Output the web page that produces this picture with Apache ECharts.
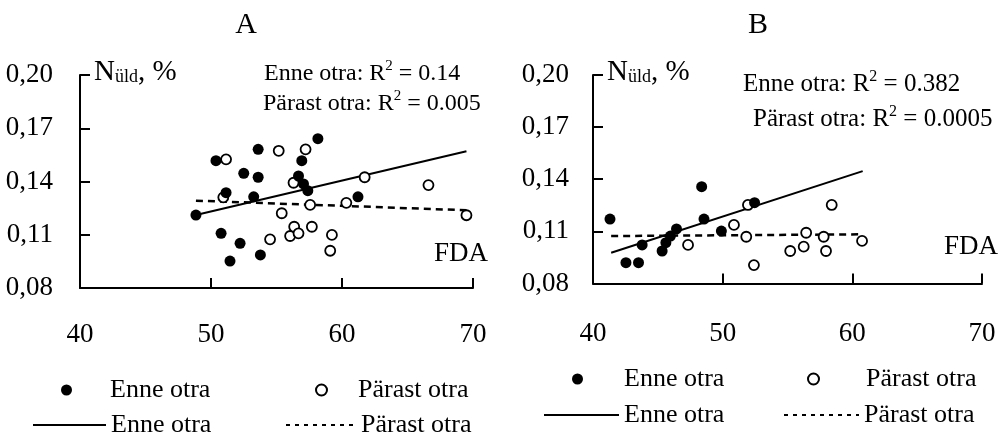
<!DOCTYPE html>
<html>
<head>
<meta charset="utf-8">
<script src="https://cdn.jsdelivr.net/npm/echarts@6/dist/echarts.min.js"></script>
<style>
html,body{margin:0;padding:0;background:#fff;}
#chart{width:1003px;height:436px;}
</style>
</head>
<body>
<div id="chart"></div>
<script>
// ---- data ----
const panelTitles = ['A', 'B'];
const xRange = [40, 70, 10];          // min, max, interval (FDA)
const yRange = [0.08, 0.20, 0.03];    // min, max, interval (N üld, %)
const xName = 'FDA';

const enneA = [[48.85,0.1211],[50.38,0.1517],[51.15,0.1337],[50.77,0.1108],[51.45,0.0952],[52.22,0.1052],[52.5,0.1446],[53.6,0.1581],[53.6,0.1424],[53.26,0.1314],[53.77,0.0986],[58.16,0.1641],[56.93,0.1517],[56.68,0.1431],[57.06,0.1386],[57.39,0.1348],[61.22,0.1314]];
const parastA = [[51.15,0.1525],[50.94,0.1311],[55.17,0.1573],[57.22,0.1581],[56.3,0.1393],[55.4,0.1221],[57.57,0.1268],[54.51,0.1074],[56.04,0.1093],[56.35,0.1145],[56.68,0.1108],[57.7,0.1145],[59.23,0.1099],[59.1,0.101],[60.33,0.128],[61.73,0.1424],[66.6,0.138],[69.5,0.121]];
const trendEnneA = [[48.85,0.1211],[69.5,0.157]];
const trendParastA = [[48.85,0.1292],[69.5,0.1238]];

const enneB = [[41.31,0.1171],[42.54,0.092],[43.51,0.092],[43.79,0.1022],[45.33,0.0987],[45.62,0.1035],[45.97,0.1073],[46.44,0.1114],[48.38,0.1357],[48.56,0.1171],[49.9,0.1102],[52.46,0.1265]];
const parastB = [[47.33,0.1022],[50.87,0.1137],[51.95,0.1252],[51.82,0.1069],[52.41,0.0906],[55.21,0.0987],[56.25,0.1012],[56.44,0.1092],[57.79,0.1069],[57.97,0.0987],[58.41,0.1252],[60.75,0.1045]];
const trendEnneB = [[41.4,0.0977],[60.8,0.1447]];
const trendParastB = [[41.4,0.1073],[60.8,0.1083]];

const r2A = ['0.14', '0.005'];
const r2B = ['0.382', '0.0005'];
const seriesNames = ['Enne otra', 'Pärast otra'];
// ---------------------------------------

const FONT = 'Liberation Serif';
const ZW = '\u200b';
const black = '#000';
const lineNames = seriesNames.map(n => n + ZW);

const chart = echarts.init(document.getElementById('chart'), null, {renderer: 'canvas'});

function xAxisCfg(gridIndex, margin) {
  return {
    gridIndex, type: 'value', min: xRange[0], max: xRange[1], interval: xRange[2],
    axisLine: {show: true, onZero: false, lineStyle: {color: black, width: 2}},
    axisTick: {show: true, inside: true, length: 10, interval: 0, lineStyle: {color: black, width: 2}},
    axisLabel: {fontFamily: FONT, fontSize: 27, color: black, margin: margin},
    splitLine: {show: false}
  };
}
function yAxisCfg(gridIndex, margin) {
  return {
    gridIndex, type: 'value', min: yRange[0], max: yRange[1], interval: yRange[2],
    name: '{n|N}{s|üld}{n|, %}', nameLocation: 'end', nameGap: 3,
    nameTextStyle: {align: 'left', verticalAlign: 'middle', padding: [0, 0, 0, 14],
      rich: {n: {fontFamily: FONT, fontSize: 29, color: black, verticalAlign: 'bottom'},
             s: {fontFamily: FONT, fontSize: 18, color: black, verticalAlign: 'bottom'}}},
    axisLine: {show: true, onZero: false, lineStyle: {color: black, width: 2}},
    axisTick: {show: true, inside: true, length: 10, interval: 0, lineStyle: {color: black, width: 2}},
    axisLabel: {fontFamily: FONT, fontSize: 27, color: black, margin: margin,
      formatter: v => v.toFixed(2).replace('.', ',')},
    splitLine: {show: false}
  };
}
function scatterFilled(name, data, idx) {
  return {name, type: 'scatter', xAxisIndex: idx, yAxisIndex: idx, data, symbol: 'circle', symbolSize: 11,
    itemStyle: {color: black, opacity: 1}, z: 5, emphasis: {disabled: true}};
}
function scatterOpen(name, data, idx) {
  return {name, type: 'scatter', xAxisIndex: idx, yAxisIndex: idx, data, symbol: 'circle', symbolSize: 10,
    itemStyle: {color: '#fff', borderColor: black, borderWidth: 1.8, opacity: 1}, z: 4, emphasis: {disabled: true}};
}
function trend(name, data, idx, dashed) {
  return {name, type: 'line', xAxisIndex: idx, yAxisIndex: idx, data, symbol: 'none', showSymbol: false,
    lineStyle: {color: black, width: dashed ? 2.5 : 2, type: dashed ? [7, 5] : 'solid'},
    itemStyle: {color: black}, z: 3, silent: true};
}
// one legend component per entry so each icon/text sits where the reference has it
function legendDot(name, left, top, textPad) {
  return {data: [name], left, top, itemWidth: 11, itemHeight: 11, padding: 0, selectedMode: false,
    formatter: n => n.replace(/\u200b/g, ''),
    textStyle: {fontFamily: FONT, fontSize: 26, color: black, lineHeight: 26, padding: [0, 0, 0, textPad]}};
}
function legendLine(name, left, top, width, dashed) {
  return {data: [{name, itemStyle: {opacity: 0},
      lineStyle: {color: black, width: 2, type: dashed ? [4, 5] : 'solid', opacity: 1}}],
    left, top, itemWidth: width, itemHeight: 12, padding: 0, selectedMode: false,
    formatter: n => n.replace(/\u200b/g, ''),
    textStyle: {fontFamily: FONT, fontSize: 26, color: black, lineHeight: 26}};
}
function r2Text(x, y, label, val, fs) {
  return {type: 'text', x, y, z: 10,
    style: {text: '{a|' + label + ': R}{s|2}{a| = ' + val + '}', verticalAlign: 'middle', align: 'left',
      rich: {a: {fontFamily: FONT, fontSize: fs, color: black, lineHeight: 30},
             s: {fontFamily: FONT, fontSize: Math.round(fs * 0.62), color: black, verticalAlign: 'top', lineHeight: 16}}}};
}
function nameText(x, y) {
  return {type: 'text', x, y, z: 10,
    style: {text: xName, align: 'right', verticalAlign: 'middle', fontFamily: FONT, fontSize: 27, fill: black}};
}

const option = {
  backgroundColor: '#fff',
  animation: false,
  title: [
    {text: panelTitles[0], left: 241, top: 20, textAlign: 'center', textVerticalAlign: 'middle',
      textStyle: {fontFamily: FONT, fontSize: 30, fontWeight: 'normal', color: black}},
    {text: panelTitles[1], left: 753, top: 20, textAlign: 'center', textVerticalAlign: 'middle',
      textStyle: {fontFamily: FONT, fontSize: 30, fontWeight: 'normal', color: black}}
  ],
  grid: [
    {left: 80, top: 75, width: 393, height: 213, containLabel: false},
    {left: 593, top: 75, width: 389, height: 208.5, containLabel: false}
  ],
  xAxis: [xAxisCfg(0, 33), xAxisCfg(1, 37)],
  yAxis: [yAxisCfg(0, 27), yAxisCfg(1, 24)],
  legend: [
    legendDot(seriesNames[0], 61, 377, 33),
    legendDot(seriesNames[1], 315, 377, 26),
    legendLine(lineNames[0], 32, 412, 73, false),
    legendLine(lineNames[1], 285, 412, 70, true),
    legendDot(seriesNames[0], 572, 366, 36),
    legendDot(seriesNames[1], 807, 366, 42),
    legendLine(lineNames[0], 543, 402, 75, false),
    legendLine(lineNames[1], 783, 402, 75, true)
  ],
  graphic: [
    r2Text(264, 74, 'Enne otra', r2A[0], 24),
    r2Text(263, 104, 'Pärast otra', r2A[1], 24),
    r2Text(743, 84, 'Enne otra', r2B[0], 25),
    r2Text(753, 119, 'Pärast otra', r2B[1], 25),
    nameText(488, 254),
    nameText(998, 247)
  ],
  series: [
    trend(lineNames[0], trendEnneA, 0, false),
    trend(lineNames[1], trendParastA, 0, true),
    scatterOpen(seriesNames[1], parastA, 0),
    scatterFilled(seriesNames[0], enneA, 0),
    trend(lineNames[0], trendEnneB, 1, false),
    trend(lineNames[1], trendParastB, 1, true),
    scatterOpen(seriesNames[1], parastB, 1),
    scatterFilled(seriesNames[0], enneB, 1)
  ]
};
chart.setOption(option);
</script>
</body>
</html>
